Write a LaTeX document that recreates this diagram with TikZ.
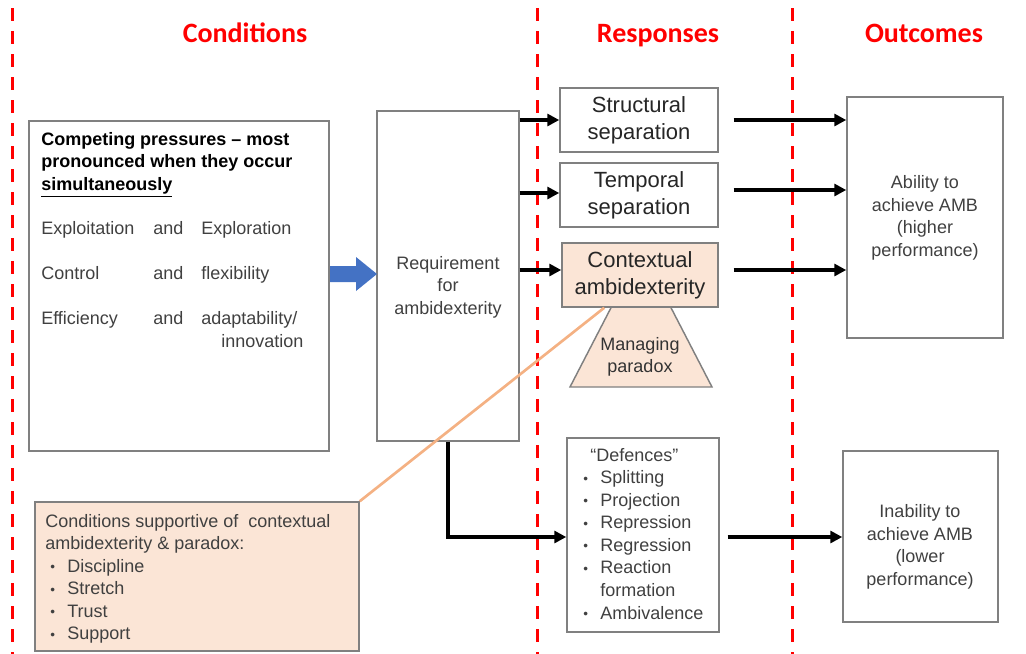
\documentclass[tikz,border=0pt]{standalone}
\usepackage{fontspec}
\setmainfont{Liberation Sans}
\newfontfamily\titlefont{Carlito}
\usetikzlibrary{arrows.meta,calc}
\definecolor{dred}{HTML}{FF0000}
\definecolor{peach}{HTML}{FBE5D6}
\definecolor{peachline}{HTML}{F4B183}
\definecolor{bgray}{HTML}{808080}
\definecolor{txt}{HTML}{404040}
\definecolor{blueA}{HTML}{4472C4}
\newcommand{\bul}[1]{\makebox[12.75pt][l]{\raisebox{0.5pt}{\scalebox{0.75}{\textbullet}}}#1}
\newcommand{\nob}[1]{\makebox[12.75pt][l]{}#1}
\begin{document}
\begin{tikzpicture}[x=0.75pt,y=-0.75pt,
 box/.style={draw=bgray,line width=1.1pt,inner sep=0pt},
 sepline/.style={draw=dred,line width=2.25pt,dash pattern=on 9.75pt off 7.5pt},
 ttl/.style={text=dred,font=\titlefont\bfseries\fontsize{21}{25}\selectfont,anchor=base},
 small/.style={font=\fontsize{13.5}{16.9}\selectfont,text=txt,inner sep=0pt},
 big/.style={font=\fontsize{16.5}{20.25}\selectfont,text=black!85,inner sep=0pt},
 arr/.style={line width=2.6pt,-{Triangle[length=9pt,width=9pt]}},
]
\useasboundingbox (0,0) rectangle (1026,654);
% separators
\draw[sepline] (12,8) -- (12,654);
\draw[sepline] (537,8) -- (537,654);
\draw[sepline] (792,8) -- (792,654);
% titles
\node[ttl] (t1) at (245,42) {Conditions};
\node[ttl] (t2) at (658,42) {Responses};
\node[ttl] (t3) at (924,42) {Outcomes};
% competing pressures box
\node[box,minimum width=225pt,minimum height=247.5pt] (cp) at (179,286) {};
\node[small,text=black,font=\bfseries\fontsize{13.5}{16.9}\selectfont,anchor=north west,align=left] (cpt) at (41,132)
 {Competing pressures -- most\\pronounced when they occur\\\underline{simultaneously}};
\node[small,anchor=base west] (r1a) at (41,234) {Exploitation};
\node[small,anchor=base west] (r1b) at (153,234) {and};
\node[small,anchor=base west] (r1c) at (201,234) {Exploration};
\node[small,anchor=base west] (r2a) at (41,279) {Control};
\node[small,anchor=base west] (r2b) at (153,279) {and};
\node[small,anchor=base west] (r2c) at (201,279) {flexibility};
\node[small,anchor=base west] (r3a) at (41,324) {Efficiency};
\node[small,anchor=base west] (r3b) at (153,324) {and};
\node[small,anchor=base west] (r3c) at (201,324) {adaptability/};
\node[small,anchor=base west] (r3d) at (221,347) {innovation};
% requirement
\node[box,minimum width=106.5pt,minimum height=247.5pt] (req) at (448,276) {};
\node[small,align=center] (reqt) at (448,287) {Requirement\\for\\ambidexterity};
% blue arrow
\fill[blueA] (330,266) -- (356,266) -- (356,257) -- (377,274) -- (356,291) -- (356,282) -- (330,282) -- cycle;
% responses
\node[box,minimum width=118.5pt,minimum height=48pt,big,align=center] (str) at (639,120) {Structural\\separation};
\node[box,minimum width=118.5pt,minimum height=48pt,big,align=center] (tmp) at (639,195) {Temporal\\separation};
\draw[draw=bgray,line width=1.1pt,fill=peach] (615,300) -- (667,300) -- (712,387) -- (570,387) -- cycle;
\node[small,align=center,text=black!80] (mp) at (640,357) {Managing\\paradox};
\node[box,fill=peach,minimum width=117pt,minimum height=48pt,big,align=center] (ctx) at (640,275) {Contextual\\ambidexterity};
% outcomes
\node[box,minimum width=117pt,minimum height=180.75pt] (abl) at (925,217.5) {};
\node[small,align=center] (ablt) at (925,218) {Ability to\\achieve AMB\\(higher\\performance)};
\node[box,minimum width=116.25pt,minimum height=128.25pt] (inab) at (920.5,536.5) {};
\node[small,align=center] (inabt) at (920,547) {Inability to\\achieve AMB\\(lower\\performance)};
% defences
\node[box,minimum width=114pt,minimum height=145.5pt] (def) at (643,535) {};
\node[small,anchor=north west,align=left] (deft) at (583,448)
 {\hspace*{5.25pt}“Defences”\\\bul{Splitting}\\\bul{Projection}\\\bul{Repression}\\\bul{Regression}\\\bul{Reaction}\\\nob{formation}\\\bul{Ambivalence}};
% supportive conditions
\node[box,fill=peach,minimum width=243pt,minimum height=111.75pt] (sup) at (197,576.5) {};
\node[small,anchor=north west,align=left] (supt) at (45,514)
 {Conditions supportive of\ \ contextual\\ambidexterity \& paradox:\\\hspace*{3.75pt}\bul{Discipline}\\\hspace*{3.75pt}\bul{Stretch}\\\hspace*{3.75pt}\bul{Trust}\\\hspace*{3.75pt}\bul{Support}};
% connectors
\draw[peachline,line width=2pt] ($(ctx.south west)+(43,0)$) -- (sup.north east);
\draw[arr] (req.east |- str.west) -- (str.west);
\draw[arr] ([yshift=1.5pt]req.east |- tmp.west) -- ([yshift=1.5pt]tmp.west);
\draw[arr] ([yshift=3.75pt]req.east |- ctx.west) -- ([yshift=3.75pt]ctx.west);
\draw[arr] ([xshift=11.25pt]str.east) -- (abl.west |- str.east);
\draw[arr] ([xshift=11.25pt,yshift=3.75pt]tmp.east) -- ([yshift=3.75pt]abl.west |- tmp.east);
\draw[arr] ([xshift=11.25pt,yshift=3.75pt]ctx.east) -- ([yshift=3.75pt]abl.west |- ctx.east);
\draw[arr] (req.south) |- ([yshift=-1.5pt]def.west);
\draw[arr] ([xshift=6pt,yshift=-1.5pt]def.east) -- ([yshift=-1.5pt]inab.west |- def.east);
\end{tikzpicture}
\end{document}
